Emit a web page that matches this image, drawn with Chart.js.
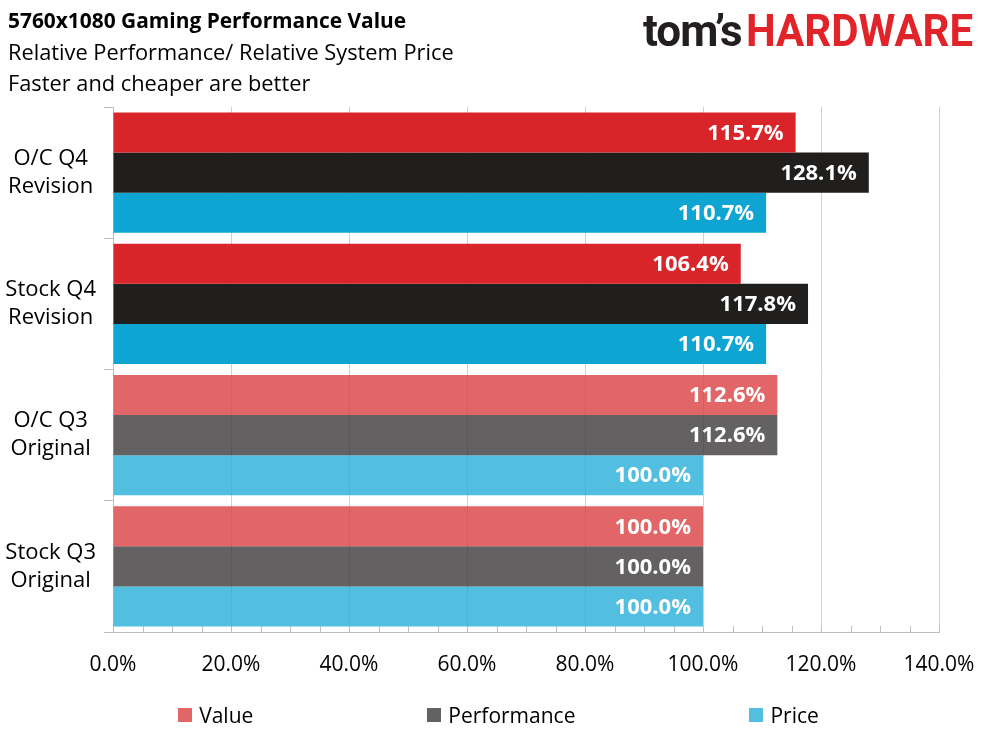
<!DOCTYPE html>
<html><head><meta charset="utf-8">
<script src="https://cdn.jsdelivr.net/npm/chart.js@4.4.0/dist/chart.umd.min.js"></script>
<style>
body{margin:0;background:#fff;}
#wrap{position:relative;width:989px;height:741px;overflow:hidden;font-family:"Open Sans",sans-serif;color:#000;}
#c{position:absolute;left:0;top:0;}
.t{position:absolute;left:8px;white-space:nowrap;line-height:30px;}
#t1{top:5px;font-weight:700;font-size:20.9px;}
#t2{top:37px;font-size:21.8px;}
#t3{top:68px;font-size:21.8px;}
#logo{position:absolute;left:643px;top:-4px;white-space:nowrap;font-family:Roboto,sans-serif;font-weight:700;font-size:44px;line-height:70px;}
#logo .a{color:#231f20;letter-spacing:-1px;}
#logo .b{color:#e0242a;display:inline-block;transform:scaleX(0.955);transform-origin:left center;margin-left:4px;}
#legend{position:absolute;left:0;width:989px;top:700px;display:flex;justify-content:center;gap:174px;padding-left:8px;box-sizing:border-box;font-size:21px;line-height:30px;}
#legend .it{display:flex;align-items:center;white-space:nowrap;}
#legend .bx{width:14px;height:14px;margin-right:7px;}
</style></head>
<body><div id="wrap">
<canvas id="c" width="989" height="741"></canvas>
<div class="t" id="t1">5760x1080 Gaming Performance Value</div>
<div class="t" id="t2">Relative Performance/ Relative System Price</div>
<div class="t" id="t3">Faster and cheaper are better</div>
<div id="logo"><span class="a">tom’s</span><span class="b">HARDWARE</span></div>
<div id="legend"></div>
</div>
<script>
const categories = [['O/C Q4','Revision'],['Stock Q4','Revision'],['O/C Q3','Original'],['Stock Q3','Original']];
const seriesNames = ['Value','Performance','Price'];
const valueData = [115.7,106.4,112.6,100.0];
const performanceData = [128.1,117.8,112.6,100.0];
const priceData = [110.7,110.7,100.0,100.0];
const xMin = 0, xMax = 140, xStep = 20, minorStep = 5;

const strongColors = ['#d9242a','#201f1e','#0ea5d2'];
const softColors = ['rgba(219,62,65,0.8)','rgba(60,57,59,0.8)','rgba(40,175,216,0.8)'];
const legendColors = ['#e26567','#636162','#53bfe0'];
const isSoft = [false,false,true,true];

const seriesData = [valueData, performanceData, priceData];
const datasets = seriesData.map((d,i)=>({
  label: seriesNames[i],
  data: d,
  backgroundColor: isSoft.map(s=> s ? softColors[i] : strongColors[i]),
  borderWidth: 0,
  categoryPercentage: 0.915,
  barPercentage: 1.0
}));

const lg = document.getElementById('legend');
seriesNames.forEach((n,i)=>{
  const it = document.createElement('div'); it.className='it';
  const bx = document.createElement('div'); bx.className='bx'; bx.style.background=legendColors[i];
  const tx = document.createElement('span'); tx.textContent=n;
  it.appendChild(bx); it.appendChild(tx); lg.appendChild(it);
});

const minorTicks = {
  id:'minorTicks',
  beforeDatasetsDraw(chart){
    const xs = chart.scales.x, b = chart.chartArea.bottom, ctx = chart.ctx;
    ctx.save(); ctx.strokeStyle='#bfbfbf'; ctx.lineWidth=1;
    for(let v=xs.min; v<=xs.max+0.001; v+=minorStep){
      const px = Math.round(xs.getPixelForValue(v))+0.5;
      ctx.beginPath(); ctx.moveTo(px,b); ctx.lineTo(px,b-6); ctx.stroke();
    }
    ctx.restore();
  }
};
const barLabels = {
  id:'barLabels',
  afterDatasetsDraw(chart){
    const ctx = chart.ctx;
    ctx.save();
    ctx.font = 'bold 22px "Open Sans"';
    ctx.fillStyle = '#fff';
    ctx.textAlign='right'; ctx.textBaseline='middle';
    chart.data.datasets.forEach((ds,i)=>{
      chart.getDatasetMeta(i).data.forEach((bar,j)=>{
        ctx.fillText(ds.data[j].toFixed(1)+'%', bar.x-12, bar.y+1);
      });
    });
    ctx.restore();
  }
};

new Chart(document.getElementById('c'), {
  type:'bar',
  data:{labels:categories, datasets},
  options:{
    indexAxis:'y',
    responsive:false,
    animation:false,
    layout:{padding:{top:107,right:50,left:0,bottom:0}},
    plugins:{legend:{display:false},tooltip:{enabled:false}},
    scales:{
      x:{
        type:'linear', min:xMin, max:xMax,
        ticks:{stepSize:xStep, callback:v=>v.toFixed(1)+'%', color:'#000', font:{family:'"Open Sans"',size:21}, padding:20},
        grid:{color:'#d0d0d0', drawTicks:false},
        border:{color:'#bfbfbf'},
        afterFit(s){ s.height = 109; s.paddingLeft = 0; s.paddingRight = 0; }
      },
      y:{
        type:'category',
        grid:{drawOnChartArea:false, offset:true, tickLength:9, color:'#bfbfbf'},
        border:{color:'#bfbfbf'},
        ticks:{color:'#000', font:{family:'"Open Sans"',size:22,lineHeight:1.27}, crossAlign:'center', padding:8},
        afterFit(s){ s.width = 113; s.paddingTop = 0; s.paddingBottom = 0; }
      }
    }
  },
  plugins:[minorTicks, barLabels]
});
</script>
</body></html>
